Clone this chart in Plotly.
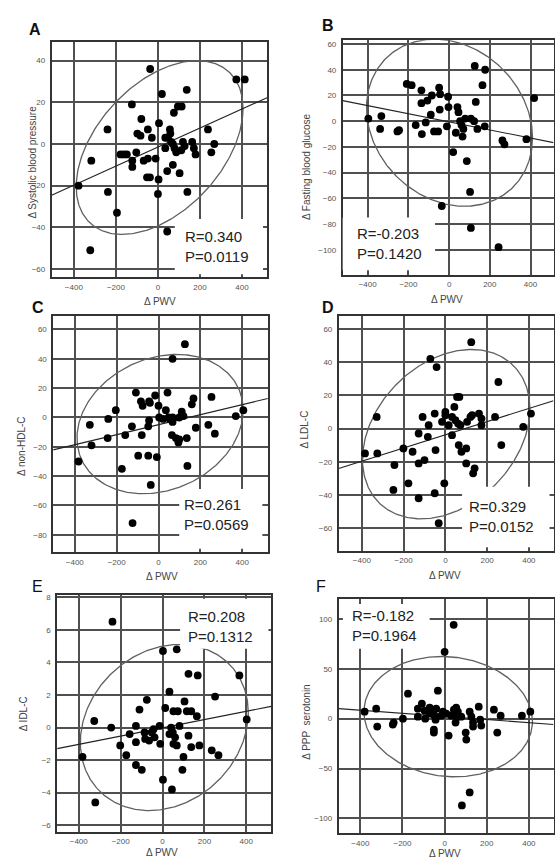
import numpy as np
import plotly.graph_objects as go

# ---------------- data ----------------
labels = ["A", "B", "C", "D", "E", "F"]
y_titles = ["Δ Systolic blood pressure", "Δ Fasting blood glucose", "Δ non-HDL-C",
            "Δ LDL-C", "Δ IDL-C", "Δ PPP  serotonin"]
x_title = "Δ PWV"
r_texts = ["R=0.340", "R=-0.203", "R=0.261", "R=0.329", "R=0.208", "R=-0.182"]
p_texts = ["P=0.0119", "P=0.1420", "P=0.0569", "P=0.0152", "P=0.1312", "P=0.1964"]
x_ticks = [-400, -200, 0, 200, 400]

a_x = [-37, 373, 413, 19, 137, -124, 95, 113, 76, -79, -240, -98, -83, -48, -29, 5, 57, 59, 238, 268,
       254, 179, 171, 163, 119, 127, 111, 35, 48, 63, 71, 35, 79, 87, 71, 44, 103, 140, 0, 3,
       -52, -38, -48, -11, -68, -103, -122, -122, -178, -162, -148, -317, -378, -238, -195, -322, 44]
a_y = [36, 31, 31, 24, 26, 19, 18, 18, 15, 12, 7, 5, 4, 7, 3, 10, 7, 5, 7, 0,
       -4, -5, -2, 1, 1, -1, -3, 3, 3, 1, 0, -2, -2, -4, -10, -13, -14, -23, -24, -17,
       -16, -16, -7, -7, -8, -4, -8, -11, -5, -5, -5, -8, -20, -23, -33, -51, -42]

b_x = [-397, -333, -339, -254, -246, -208, -184, -136, -136, -107, -85, -49, -44, -90, -115, -164, -134,
       -74, -54, -46, -11, -5, -3, 41, 46, 33, 54, 61, 70, 66, 79, 107, 123, 126, 177, 164, 131, 139,
       175, 20, 87, 103, -36, 107, 243, 262, 272, 380, 418]
b_y = [2, 4, -6, -8, -7, 29, 28, 24, 14, 16, 20, 26, 21, 5, -1, -3, -10,
       -8, -8, 9, -4, 19, 11, 11, 7, -9, 0, -3, -6, -12, 2, 2, 0, 43, 40, 28, 15, -6,
       -4, -24, -31, -55, -66, -83, -98, -15, -18, -14, 18]

c_x = [126, 67, -108, 43, 253, 167, 159, -16, -84, -76, -45, -41, 0, -204, 35, 3, 22, 48, 54, 67, 67,
       99, 111, 119, -328, -240, -127, -45, -49, -80, -159, -243, -320, 64, 83, 99, 95, 135, 178, 238,
       269, 369, 405, -382, -97, -49, -8, -175, 138, -37, -124]
c_y = [50, 40, 17, 17, 14, 13, 9, 15, 11, 8, 11, 10, 8, 5, 5, 0, -1, 0, -1, -3, 0,
       0, 4, 1, -5, -1, -6, -2, -6, -12, -12, -14, -19, -12, -14, -15, -17, -14, -7, -5,
       -11, 1, 5, -30, -26, -26, -27, -35, -33, -46, -72]

d_x = [124, -72, -42, 254, 56, 67, -329, -109, -51, 0, 0, -16, 43, 16, 32, 48, 61, 72, 104, 120, 128,
       161, 173, 173, 238, 373, 410, 268, -80, -84, -128, 32, -385, -326, -201, -157, -47, 64, 77, 100,
       -100, -128, -244, 100, 140, 133, -177, -5, -249, -51, -128, -32]
d_y = [52, 42, 37, 28, 19, 19, 7, 7, 9, 10, 8, 4, 13, 2, 7, 5, 3, 2, 4, 7, 8,
       9, 6, 2, 7, 1, 9, -10, 2, -5, -3, -4, -15, -15, -12, -14, -13, -10, -14, -12,
       -19, -21, -22, -21, -24, -27, -33, -33, -37, -39, -42, -57]

e_x = [-239, 2, 68, 124, 168, 367, 251, 33, -75, -110, 13, 105, 52, 73, 116, 137, 164, 402, -326, -245,
       -127, -14, 41, 81, -157, -86, -43, -51, -38, -83, -64, -11, 33, 49, 60, 52, 68, 124, 137, 176,
       -202, -127, -173, -382, 100, 235, 267, -127, -99, 95, 2, 45, -321]
e_y = [6.5, 4.7, 4.8, 3.3, 3.2, 3.2, 1.9, 2.2, 1.7, 1.1, 1.2, 1.6, 1.0, 1.0, 1.0, 1.0, 0.7, 0.5, 0.4, 0.0,
       0.1, 0.1, 0.0, 0.1, -0.4, -0.3, -0.1, -0.3, -0.6, -0.7, -0.8, -1.0, -0.4, -0.3, -0.6, -1.0, -1.1,
       -0.5, -1.2, -1.1, -1.1, -0.9, -1.7, -1.8, -1.8, -1.4, -1.7, -2.3, -2.6, -2.6, -3.2, -3.8, -4.6]

f_x = [43, 0, -174, -32, -380, -325, -320, -246, -242, -198, -127, -108, -127, -95, -71, -55, -40, -92,
       -71, -48, -51, -51, -43, -16, -8, 8, 19, 44, 55, 63, 48, 63, 52, 32, 79, 119, 127, 135, 135, 162,
       169, 174, 100, 103, 234, 266, 250, 367, 407, 119, 82]
f_y = [94, 67, 25, 28, 7, 10, -8, -6, -4, 0, 10, 15, 2, 8, 11, 8, 10, 0,
       5, 3, -11, -14, -1, 3, 7, 5, -17, 9, 11, 7, 4, 2, -4, 3, 2, 7, 2, -4, -8, 12,
       -1, -7, -14, -21, 9, 3, -14, 3, 7, -74, -87]

# regression lines: intercept, slope
line_intercept = [-1.5, -0.5, -4.9, -3.8, -0.02, 2.2]
line_slope = [0.0457, -0.0315, 0.0342, 0.0397, 0.00254, -0.0156]

# ellipses: centre x, half width, centre y, half height, tilt (correlation)
ell_cx = [8, 2, 7.5, 4, 8.5, 17]
ell_sx = [397, 408, 397, 401, 401, 400]
ell_cy = [-1.7, -1.2, -4.5, -3.4, 0.0, 2.0]
ell_sy = [41.7, 65, 47.5, 51, 5.1, 60.3]
ell_r = [0.45, -0.18, 0.2, 0.3, 0.18, -0.08]

xs = [a_x, b_x, c_x, d_x, e_x, f_x]
ys = [a_y, b_y, c_y, d_y, e_y, f_y]

# ---------------- layout (pixel geometry) ----------------
W, H = 555, 860
boxes = [  # left, right, top, bottom in px
    (51.7, 267.5, 40, 276),
    (343.3, 554.5, 38.3, 273.3),
    (53.3, 268.3, 314.3, 551.7),
    (339.3, 554.5, 315, 550),
    (57.3, 271.7, 594, 831.7),
    (339.3, 554.5, 598.3, 833.3),
]
x_ranges = [(-506, 519), (-523, 513), (-503, 522), (-511, 518), (-503, 519), (-503, 517)]
y_ranges = [(-64, 49), (-119.4, 63), (-92, 69.5), (-73.6, 67.6), (-6.4, 8.16), (-115, 120)]
y_dticks = [20, 20, 20, 20, 2, 50]
# white label boxes, data coords: x0, x1, y0, y1
label_boxes = [(80, 500, -62.5, -36), (-530, -69, -116, -75), (99, 496, -89.5, -48.7),
               (80, 499, -71.5, -35), (84, 506, 4.84, 7.9), (-483, -71, 70, 115)]
text_pos = [(183, 245.5), (356, 242), (182.5, 514), (468, 516), (186.5, 626), (350.5, 625)]
letter_pos = [(35, 27.5), (328.5, 24), (38, 306), (328.5, 306), (38, 586), (322, 586)]
letter_bold = [True, True, True, True, False, False]
ytitle_pos = [(33, 160), (307, 165), (22, 445), (305, 428), (23, 713), (307, 722)]
xtitle_pos = [(160, 300), (448, 298), (162, 576), (446, 575), (162, 852), (446, 853)]

FONT = "Liberation Sans, Arial, sans-serif"

def px_x(v):
    return v / W

def px_y(v):
    return 1 - v / H

fig = go.Figure()
annotations = []
shapes = []
t = np.linspace(0, 2 * np.pi, 361)

for i in range(6):
    xa = "x" if i == 0 else f"x{i+1}"
    ya = "y" if i == 0 else f"y{i+1}"
    # ellipse
    th = np.arccos(ell_r[i])
    ex = ell_cx[i] + ell_sx[i] * np.cos(t)
    ey = ell_cy[i] + ell_sy[i] * np.cos(t - th)
    fig.add_trace(go.Scatter(x=ex, y=ey, mode="lines", xaxis=xa, yaxis=ya,
                             line=dict(color="#606060", width=1.3), hoverinfo="skip", showlegend=False))
    # regression line
    lx = np.array(x_ranges[i], dtype=float)
    ly = line_intercept[i] + line_slope[i] * lx
    fig.add_trace(go.Scatter(x=lx, y=ly, mode="lines", xaxis=xa, yaxis=ya,
                             line=dict(color="#222222", width=1.1), hoverinfo="skip", showlegend=False))
    # points
    fig.add_trace(go.Scatter(x=xs[i], y=ys[i], mode="markers", xaxis=xa, yaxis=ya,
                             marker=dict(color="black", size=7.8), showlegend=False))

    l, r, tp, bt = boxes[i]
    axis_common = dict(showgrid=True, gridcolor="#505050", gridwidth=1.6, zeroline=False,
                       showline=True, linecolor="#333333", linewidth=1.6, mirror=True,
                       ticks="", ticklen=0, tickfont=dict(family=FONT, size=8, color="#555555"))
    fig.update_layout(**{
        ("xaxis" if i == 0 else f"xaxis{i+1}"): dict(
            domain=[px_x(l), min(px_x(r), 1)], anchor=ya, range=list(x_ranges[i]),
            tickvals=x_ticks, ticklabelstandoff=1, **axis_common),
        ("yaxis" if i == 0 else f"yaxis{i+1}"): dict(
            domain=[px_y(bt), px_y(tp)], anchor=xa, range=list(y_ranges[i]),
            dtick=y_dticks[i], tick0=0, ticklabelstandoff=3, **axis_common),
    })

    bx0, bx1, by0, by1 = label_boxes[i]
    shapes.append(dict(type="rect", xref=xa, yref=ya, x0=bx0, x1=bx1, y0=by0, y1=by1,
                       fillcolor="white", line=dict(width=0, color="white"), layer="above"))

    tx, ty = text_pos[i]
    annotations.append(dict(x=px_x(tx), y=px_y(ty), xref="paper", yref="paper",
                            text=f"{r_texts[i]}<br>{p_texts[i]}", showarrow=False,
                            xanchor="left", yanchor="middle", align="left",
                            font=dict(family=FONT, size=15, color="#222222")))
    lx_, ly_ = letter_pos[i]
    txt = f"<b>{labels[i]}</b>" if letter_bold[i] else labels[i]
    annotations.append(dict(x=px_x(lx_), y=px_y(ly_), xref="paper", yref="paper", text=txt,
                            showarrow=False, xanchor="center", yanchor="middle",
                            font=dict(family=FONT, size=16, color="#111111")))
    yx, yy = ytitle_pos[i]
    annotations.append(dict(x=px_x(yx), y=px_y(yy), xref="paper", yref="paper", text=y_titles[i],
                            textangle=-90, showarrow=False, xanchor="center", yanchor="middle",
                            font=dict(family=FONT, size=10, color="#444444")))
    xx, xy = xtitle_pos[i]
    annotations.append(dict(x=px_x(xx), y=px_y(xy), xref="paper", yref="paper", text=x_title,
                            showarrow=False, xanchor="center", yanchor="middle",
                            font=dict(family=FONT, size=10, color="#444444")))

fig.update_layout(width=W, height=H, margin=dict(l=0, r=0, t=0, b=0),
                  paper_bgcolor="white", plot_bgcolor="white",
                  annotations=annotations, shapes=shapes, showlegend=False)

fig.write_html("out.html", config={"displayModeBar": False},
               post_script="document.body.style.margin='0px';document.body.style.overflow='hidden';")
